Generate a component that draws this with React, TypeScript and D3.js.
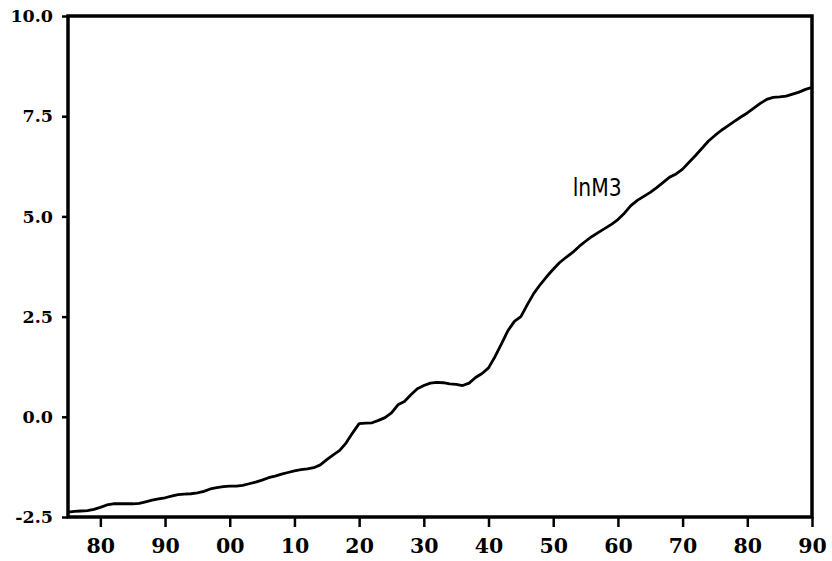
import React, { useEffect, useRef } from 'react';
import * as d3 from 'd3';

const years: number[] = d3.range(1875, 1991);

// lnM3, one value per year 1875..1990
const lnM3: number[] = [
  -2.38, -2.36, -2.35, -2.34, -2.31, -2.26, -2.2, -2.17, -2.17, -2.17,
  -2.17, -2.16, -2.12, -2.08, -2.05, -2.02, -1.98, -1.94, -1.93, -1.92,
  -1.9, -1.86, -1.8, -1.77, -1.74, -1.73, -1.73, -1.71, -1.67, -1.63,
  -1.58, -1.52, -1.48, -1.43, -1.39, -1.35, -1.32, -1.3, -1.27, -1.2,
  -1.07, -0.95, -0.84, -0.65, -0.4, -0.17, -0.16, -0.15, -0.09, -0.02,
  0.1, 0.3, 0.38, 0.55, 0.7, 0.78, 0.84, 0.86, 0.85, 0.82,
  0.81, 0.78, 0.84, 0.98, 1.08, 1.22, 1.5, 1.82, 2.15, 2.38,
  2.5, 2.8, 3.08, 3.3, 3.5, 3.68, 3.85, 3.98, 4.1, 4.25,
  4.38, 4.5, 4.6, 4.7, 4.8, 4.92, 5.08, 5.27, 5.4, 5.5,
  5.6, 5.72, 5.85, 5.98, 6.06, 6.18, 6.35, 6.52, 6.7, 6.88,
  7.02, 7.15, 7.26, 7.37, 7.48, 7.58, 7.7, 7.82, 7.92, 7.97,
  7.98, 8.0, 8.05, 8.1, 8.17, 8.22,
];

const yTicks: number[] = [-2.5, 0, 2.5, 5, 7.5, 10];
const xTicks: number[] = [1880, 1890, 1900, 1910, 1920, 1930, 1940, 1950, 1960, 1970, 1980, 1990];
const seriesLabel = 'lnM3';
const labelAt = { year: 1953, value: 5.5 };

const width = 832;
const height = 561;
const margin = { top: 16, right: 20, bottom: 44, left: 68 };

const App: React.FC = () => {
  const svgRef = useRef<SVGSVGElement>(null);

  useEffect(() => {
    if (!svgRef.current) return;
    const svg = d3.select(svgRef.current);
    svg.selectAll('*').remove();

    const x = d3
      .scaleLinear()
      .domain([1875, 1990])
      .range([margin.left, width - margin.right]);
    const y = d3
      .scaleLinear()
      .domain([-2.5, 10])
      .range([height - margin.bottom, margin.top]);

    const data = years.map((yr, i) => ({ yr, v: lnM3[i] }));

    // series
    const line = d3
      .line<{ yr: number; v: number }>()
      .x(d => x(d.yr))
      .y(d => y(d.v));

    svg.append('path')
      .datum(data)
      .attr('fill', 'none')
      .attr('stroke', '#000')
      .attr('stroke-width', 2.8)
      .attr('stroke-linejoin', 'round')
      .attr('d', line);

    // Y axis
    const yAxis = svg.append('g')
      .attr('transform', `translate(${margin.left},0)`)
      .call(
        d3.axisLeft(y)
          .tickValues(yTicks)
          .tickSize(6)
          .tickPadding(9)
          .tickFormat(d => d3.format('.1f')(d as number).replace('−', '-'))
      );
    yAxis.select('.domain').remove();
    yAxis.selectAll('line').attr('stroke', '#000').attr('stroke-width', 2.5);
    yAxis.selectAll('text')
      .attr('font-family', '"DejaVu Serif", serif')
      .attr('font-weight', 'bold')
      .attr('font-size', 17.5)
      .attr('fill', '#000');

    // X axis
    const xAxis = svg.append('g')
      .attr('transform', `translate(0,${height - margin.bottom})`)
      .call(
        d3.axisBottom(x)
          .tickValues(xTicks)
          .tickSize(10)
          .tickFormat(d => d3.format('02d')((d as number) % 100))
      );
    xAxis.select('.domain').remove();
    xAxis.selectAll('line').attr('stroke', '#000').attr('stroke-width', 2.5);
    xAxis.selectAll('text')
      .attr('y', 36)
      .attr('dy', 0)
      .attr('font-family', '"DejaVu Serif", serif')
      .attr('font-weight', 'bold')
      .attr('font-size', 20.5)
      .attr('fill', '#000');

    // frame
    svg.append('rect')
      .attr('x', x(1875))
      .attr('y', y(10))
      .attr('width', x(1990) - x(1875))
      .attr('height', y(-2.5) - y(10))
      .attr('fill', 'none')
      .attr('stroke', '#000')
      .attr('stroke-width', 3.5);

    // series label
    svg.append('text')
      .attr('x', x(labelAt.year))
      .attr('y', y(labelAt.value))
      .attr('font-family', '"DejaVu Sans", sans-serif')
      .attr('font-size', 25)
      .attr('textLength', 49)
      .attr('lengthAdjust', 'spacingAndGlyphs')
      .attr('fill', '#000')
      .text(seriesLabel);
  }, []);

  return (
    <svg
      ref={svgRef}
      width={width}
      height={height}
      style={{ position: 'absolute', left: 0, top: 0, background: '#fff' }}
    />
  );
};

export default App;
